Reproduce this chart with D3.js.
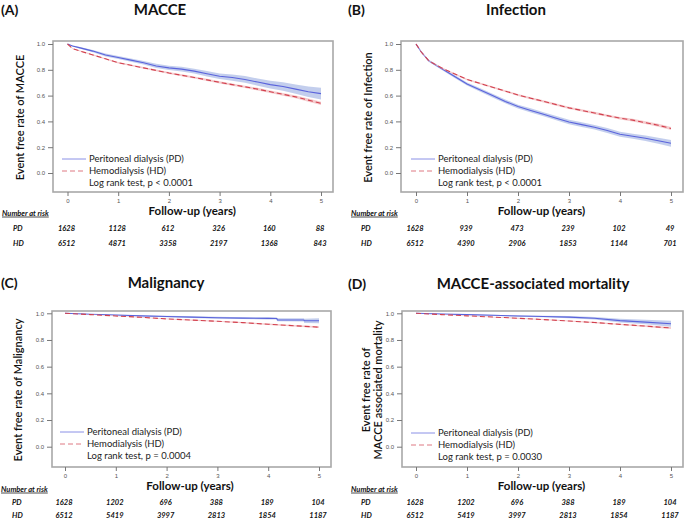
<!doctype html>
<html lang="en">
<head>
<meta charset="UTF-8">
<title>Kaplan-Meier curves</title>
<style>
  html, body { margin: 0; padding: 0; background: #fff; }
  svg { display: block; font-family: Lato, "Open Sans", sans-serif; }
  .tick text { font-size: 6px; fill: #555; }
  .tick line { stroke: #777; }
</style>
</head>
<body>
<svg id="chart" width="685" height="520"></svg>
<script src="https://cdn.jsdelivr.net/npm/d3@7"></script>
<script>
// follow-up grid (years) used for MACCE and Infection
const years = [0, 0.1, 0.25, 0.5, 0.75, 1, 1.25, 1.5, 1.75, 2, 2.25, 2.5, 2.75, 3, 3.25, 3.5, 3.75, 4, 4.25, 4.5, 4.75, 5]
const halfYears = [0, 0.5, 1, 1.5, 2, 2.5, 3, 3.5, 4, 4.5, 5]

// (A) MACCE
const maccePD   = [1, .985, .97, .945, .915, .895, .875, .855, .83, .815, .805, .79, .77, .75, .74, .725, .705, .685, .67, .65, .63, .615]
const maccePDci = [0, .004, .007, .009, .011, .012, .013, .014, .016, .017, .018, .019, .021, .022, .024, .026, .028, .030, .033, .036, .040, .045]
const macceHD   = [1, .965, .945, .915, .885, .855, .835, .815, .795, .775, .758, .74, .722, .703, .685, .668, .65, .63, .61, .59, .565, .54]
const macceHDci = [0, .003, .004, .005, .005, .006, .006, .007, .007, .007, .008, .008, .008, .009, .009, .009, .010, .010, .011, .011, .012, .013]

// (B) Infection
const infPD   = [1, .94, .87, .81, .75, .69, .645, .60, .555, .515, .485, .455, .425, .395, .375, .355, .33, .30, .285, .27, .25, .23]
const infPDci = [0, .004, .007, .009, .011, .012, .013, .014, .015, .015, .016, .016, .017, .017, .018, .018, .019, .019, .020, .021, .023, .026]
const infHD   = [1, .94, .87, .815, .77, .725, .695, .665, .635, .605, .58, .555, .53, .505, .485, .465, .445, .425, .41, .39, .37, .345]
const infHDci = [0, .003, .004, .005, .006, .006, .007, .007, .007, .008, .008, .008, .008, .009, .009, .009, .009, .010, .010, .011, .011, .012]

// (C) Malignancy
const malPDyears = [0, 0.5, 1, 1.5, 2, 2.5, 3, 3.5, 4, 4.17, 4.18, 4.7, 4.71, 5]
const malPD   = [1, .993, .987, .981, .976, .971, .967, .964, .962, .961, .951, .950, .944, .944]
const malPDci = [0, .002, .003, .004, .005, .006, .007, .007, .008, .008, .011, .012, .016, .018]
const malHD   = [1, .99, .98, .97, .958, .949, .94, .93, .918, .907, .896]
const malHDci = [0, .001, .002, .003, .003, .004, .004, .005, .005, .006, .007]

// (D) MACCE-associated mortality
const morPD   = [1, .995, .99, .985, .98, .976, .971, .963, .945, .934, .922]
const morPDci = [0, .002, .003, .004, .005, .006, .008, .010, .014, .017, .022]
const morHD   = [1, .99, .981, .972, .963, .953, .942, .931, .917, .904, .89]
const morHDci = [0, .001, .002, .003, .003, .004, .004, .005, .005, .006, .007]

// number at risk at 0..5 years
const riskYears = [0, 1, 2, 3, 4, 5]
const macceRiskPD = [1628, 1128, 612, 326, 160, 88]
const macceRiskHD = [6512, 4871, 3358, 2197, 1368, 843]
const infRiskPD = [1628, 939, 473, 239, 102, 49]
const infRiskHD = [6512, 4390, 2906, 1853, 1144, 701]
const malRiskPD = [1628, 1202, 696, 388, 189, 104]
const malRiskHD = [6512, 5419, 3997, 2813, 1854, 1187]
const morRiskPD = [1628, 1202, 696, 388, 189, 104]
const morRiskHD = [6512, 5419, 3997, 2813, 1854, 1187]

const yTicks = [0, 0.2, 0.4, 0.6, 0.8, 1.0]
const legendLabels = ['Peritoneal dialysis (PD)', 'Hemodialysis (HD)']

const blue = '#5a63dc', blueBand = '#b9c6ea'
const red = '#d2404e', redBand = '#f3c3c6'

const svg = d3.select('#chart')
svg.append('rect').attr('width', 685).attr('height', 520).attr('fill', '#fff')

const panels = [
  { tag: '(A)', title: 'MACCE', ylab: ['Event free rate of MACCE'], p: '<', pval: '0.0001',
    pd: [years, maccePD, maccePDci], hd: [years, macceHD, macceHDci], riskPD: macceRiskPD, riskHD: macceRiskHD,
    fx: [53, 333], fy: [41, 192], xr: [67.5, 321], yr: [173, 44], tagX: 1, titleX: 160, titleY: 10,
    ylx: 20, lgx: 62, lgy: 159, riskLabX: 2, riskRowX: 13, riskY: [213, 228, 243] },
  { tag: '(B)', title: 'Infection', ylab: ['Event free rate of Infection'], p: '<', pval: '0.0001',
    pd: [years, infPD, infPDci], hd: [years, infHD, infHDci], riskPD: infRiskPD, riskHD: infRiskHD,
    fx: [401, 683], fy: [41, 192], xr: [416, 671], yr: [173, 44], tagX: 348, titleX: 516, titleY: 10,
    ylx: 368, lgx: 411, lgy: 159, riskLabX: 351, riskRowX: 361, riskY: [213, 228, 243] },
  { tag: '(C)', title: 'Malignancy', ylab: ['Event free rate of Malignancy'], p: '=', pval: '0.0004',
    pd: [malPDyears, malPD, malPDci], hd: [halfYears, malHD, malHDci], riskPD: malRiskPD, riskHD: malRiskHD,
    fx: [52, 331], fy: [311, 467], xr: [65, 319], yr: [446.7, 313.3], tagX: 1, titleX: 166, titleY: 283,
    ylx: 18, lgx: 60, lgy: 432, riskLabX: 1, riskRowX: 12, riskY: [489, 502, 515] },
  { tag: '(D)', title: 'MACCE-associated mortality', ylab: ['Event free rate of', 'MACCE associated mortality'], p: '=', pval: '0.0030',
    pd: [halfYears, morPD, morPDci], hd: [halfYears, morHD, morHDci], riskPD: morRiskPD, riskHD: morRiskHD,
    fx: [402, 683], fy: [311, 467], xr: [416, 671], yr: [446.7, 313.3], tagX: 348, titleX: 533, titleY: 284,
    ylx: 372, lgx: 411, lgy: 433, riskLabX: 351, riskRowX: 361, riskY: [489, 502, 515] }
]

panels.forEach(drawPanel)

function drawPanel(c) {
  const g = svg.append('g')
  const x = d3.scaleLinear().domain([0, 5]).range(c.xr)
  const y = d3.scaleLinear().domain([0, 1]).range(c.yr)

  // tag and title
  g.append('text').attr('x', c.tagX).attr('y', c.titleY).attr('dy', '0.35em')
    .attr('font-size', 14).attr('font-weight', 700).attr('fill', '#111').text(c.tag)
  g.append('text').attr('x', c.titleX).attr('y', c.titleY).attr('dy', '0.35em')
    .attr('text-anchor', 'middle').attr('font-size', 15).attr('font-weight', 700).attr('fill', '#111').text(c.title)

  // bands and curves
  const series = [[c.pd, blue, blueBand, null], [c.hd, red, redBand, '5,3']]
  series.forEach(([s, col, band, dash]) => {
    const pts = s[0].map((t, i) => ({ t: t, v: s[1][i], ci: s[2][i] }))
    g.append('path')
      .attr('d', d3.area().x(d => x(d.t)).y0(d => y(d.v - d.ci)).y1(d => y(Math.min(1, d.v + d.ci)))(pts))
      .attr('fill', band).attr('opacity', 0.85)
    g.append('path')
      .attr('d', d3.line().x(d => x(d.t)).y(d => y(d.v))(pts))
      .attr('fill', 'none').attr('stroke', col).attr('stroke-width', 1.1)
      .attr('stroke-dasharray', dash)
  })

  // frame
  g.append('rect').attr('x', c.fx[0]).attr('y', c.fy[0])
    .attr('width', c.fx[1] - c.fx[0]).attr('height', c.fy[1] - c.fy[0])
    .attr('fill', 'none').attr('stroke', '#a8a8a8').attr('stroke-width', 1.6)

  // axes
  const ya = g.append('g').attr('transform', `translate(${c.fx[0]},0)`)
    .call(d3.axisLeft(y).tickValues(yTicks).tickFormat(d3.format('.1f')).tickSize(5).tickPadding(3))
  ya.select('.domain').remove()
  const xa = g.append('g').attr('transform', `translate(0,${c.fy[1]})`)
    .call(d3.axisBottom(x).tickValues(riskYears).tickFormat(d3.format('d')).tickSize(4).tickPadding(3))
  xa.select('.domain').remove()

  // axis titles
  g.append('text').attr('x', (c.xr[0] + c.xr[1]) / 2 - 2).attr('y', c.fy[1] + 19).attr('dy', '0.35em')
    .attr('text-anchor', 'middle').attr('font-size', 11.5).attr('font-weight', 700).attr('fill', '#111')
    .text('Follow-up (years)')
  const ym = (c.fy[0] + c.fy[1]) / 2 + 1
  const yl = g.append('text').attr('transform', `translate(${c.ylx},${ym}) rotate(-90)`)
    .attr('text-anchor', 'middle').attr('font-size', 11).attr('font-weight', 600).attr('fill', '#111')
  c.ylab.forEach((l, i) => {
    yl.append('tspan').attr('x', 0).attr('dy', i === 0 ? (c.ylab.length > 1 ? '-0.2em' : '0.35em') : '1.1em').text(l)
  })

  // legend
  const lg = g.append('g').attr('font-size', 9.5).attr('fill', '#222')
  ;[[blue, null], [red, '5,3']].forEach(([col, dash], i) => {
    const ly = c.lgy + i * 12
    lg.append('line').attr('x1', c.lgx).attr('x2', c.lgx + 24).attr('y1', ly).attr('y2', ly)
      .attr('stroke', col).attr('stroke-width', 1).attr('opacity', 0.7).attr('stroke-dasharray', dash)
    lg.append('text').attr('x', c.lgx + 27).attr('y', ly).attr('dy', '0.35em').text(legendLabels[i])
  })
  lg.append('text').attr('x', c.lgx + 27).attr('y', c.lgy + 24).attr('dy', '0.35em')
    .text(`Log rank test, p ${c.p} ${c.pval}`)

  // number at risk
  const rk = g.append('g').attr('font-size', 7.5).attr('font-weight', 700).attr('font-style', 'italic').attr('fill', '#111')
  rk.append('text').attr('x', c.riskLabX).attr('y', c.riskY[0]).attr('dy', '0.35em')
    .attr('text-decoration', 'underline').text('Number at risk')
  ;[['PD', c.riskPD], ['HD', c.riskHD]].forEach(([lab, vals], i) => {
    const ry = c.riskY[i + 1]
    rk.append('text').attr('x', c.riskRowX).attr('y', ry).attr('dy', '0.35em').text(lab)
    rk.selectAll(null).data(vals).join('text')
      .attr('x', (d, j) => x(riskYears[j]) - 1).attr('y', ry).attr('dy', '0.35em')
      .attr('text-anchor', 'middle').text(d => d)
  })
}
</script>
</body>
</html>
